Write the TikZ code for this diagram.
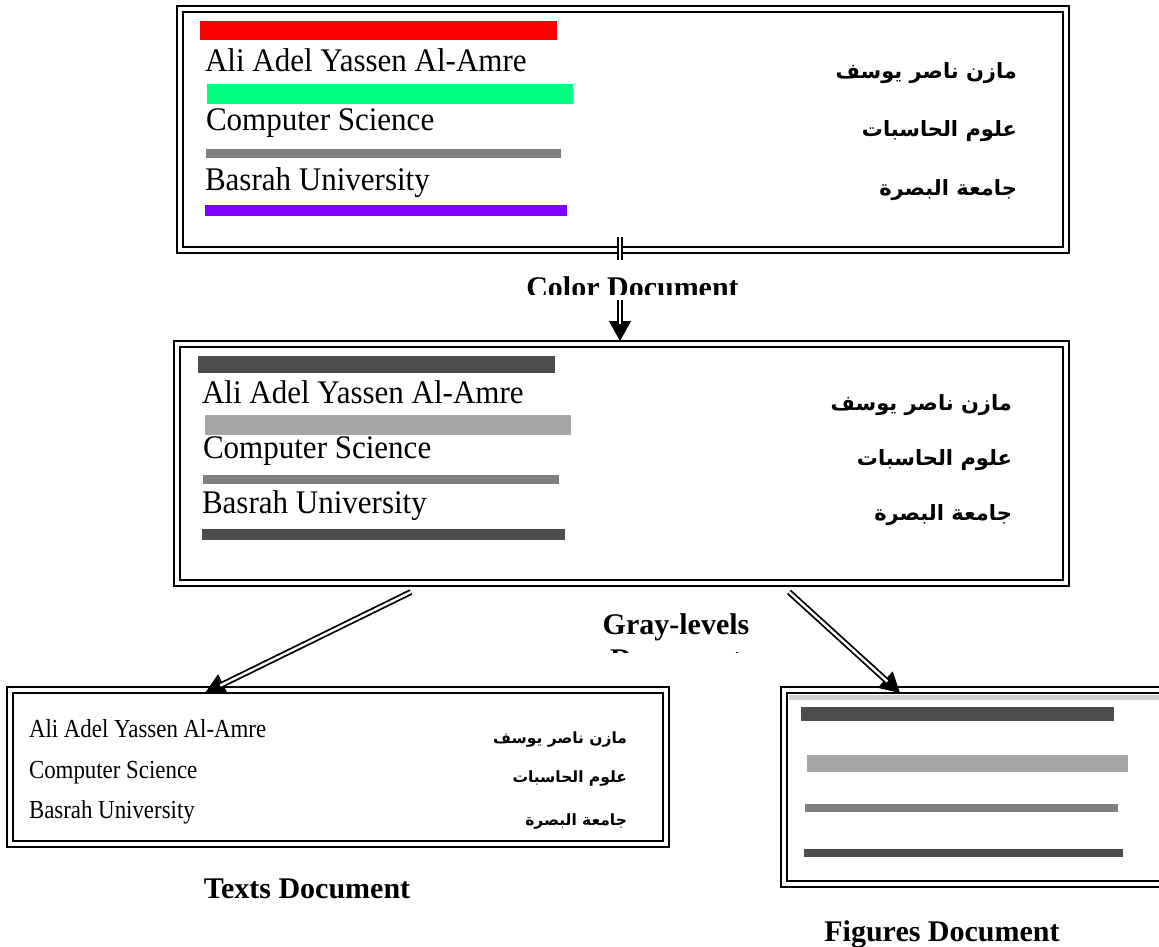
\documentclass[tikz,border=0pt]{standalone}
\usepackage{fontspec}
\setmainfont{Liberation Serif}
\newfontfamily\narrowserif[FakeStretch=0.94]{Liberation Serif}
\newfontfamily\narrowserifsmall[FakeStretch=0.88]{Liberation Serif}
\newfontfamily\arabicfont[Script=Arabic]{DejaVu Sans}
\TeXXeTstate=1
\usetikzlibrary{arrows.meta,calc}

\newcommand\bigserif{\narrowserif\fontsize{33}{38}\selectfont}
\newcommand\smallserif{\narrowserifsmall\fontsize{26}{30}\selectfont}
\newcommand\bigarabic{\arabicfont\bfseries\fontsize{21}{25}\selectfont}
\newcommand\smallarabic{\arabicfont\bfseries\fontsize{15.5}{19}\selectfont}
\newcommand\labelfont{\bfseries\fontsize{30}{34}\selectfont}

\definecolor{barred}{HTML}{FF0000}
\definecolor{bargreen}{HTML}{00FF80}
\definecolor{bargray}{HTML}{808080}
\definecolor{barpurple}{HTML}{8000FF}
\definecolor{bardark}{HTML}{4D4D4D}
\definecolor{barlight}{HTML}{A6A6A6}
\definecolor{stripgray}{HTML}{D0D0D0}

\tikzset{
  every node/.style={inner sep=0pt, outer sep=0pt},
  docbox/.style={draw, line width=2.4pt, fill=white},
  innerline/.style={line width=1.3pt},
  textline/.style={anchor=base west},
  arabline/.style={anchor=base east},
  caption/.style={anchor=base, font=\labelfont},
  tipline/.style={line width=0.8pt, -{Triangle[width=22pt,length=20pt]}},
  twinline/.style={line width=1.8pt, double, double distance=2.4pt, shorten >=17pt},
}

\begin{document}
\begin{tikzpicture}[x=1pt, y=-1pt]
\useasboundingbox (0,0) rectangle (1159,947);
\clip (0,0) rectangle (1159,947);

% the four document frames
\node[docbox, minimum width=892pt, minimum height=247pt] (top) at (623,129.5) {};
\node[docbox, minimum width=895pt, minimum height=245pt] (mid) at (621.5,463.5) {};
\node[docbox, minimum width=662pt, minimum height=160pt] (txt) at (338,767) {};
\node[docbox, minimum width=394pt, minimum height=200pt] (fig) at (978,787) {};
\foreach \b in {top,mid,txt,fig}
  \draw[innerline] ($(\b.north west)+(6,6)$) rectangle ($(\b.south east)+(-6,-6)$);

% colour document
\fill[barred]    (200,21)  rectangle (557,40);
\fill[bargreen]  (207,84)  rectangle (573,104);
\fill[bargray]   (206,149) rectangle (561,158);
\fill[barpurple] (205,205) rectangle (567,216);
\node[textline, font=\bigserif] (c1) at (205,72)  {Ali Adel Yassen Al-Amre};
\node[textline, font=\bigserif] (c2) at (206,131) {Computer Science};
\node[textline, font=\bigserif] (c3) at (205,190) {Basrah University};
\node[arabline, font=\bigarabic] (ca1) at (1017,79)  {\beginR مازن ناصر يوسف\endR};
\node[arabline, font=\bigarabic] (ca2) at (1017,137) {\beginR علوم الحاسبات\endR};
\node[arabline, font=\bigarabic] (ca3) at (1017,195) {\beginR جامعة البصرة\endR};

% gray-levels document
\fill[bardark]  (198,356) rectangle (555,373);
\fill[barlight] (205,415) rectangle (571,435);
\fill[bargray]  (203,475) rectangle (559,484);
\fill[bardark]  (202,529) rectangle (565,540);
\node[textline, font=\bigserif] (g1) at (202,403) {Ali Adel Yassen Al-Amre};
\node[textline, font=\bigserif] (g2) at (203,458) {Computer Science};
\node[textline, font=\bigserif] (g3) at (202,513) {Basrah University};
\node[arabline, font=\bigarabic] (ga1) at (1012,410) {\beginR مازن ناصر يوسف\endR};
\node[arabline, font=\bigarabic] (ga2) at (1012,465) {\beginR علوم الحاسبات\endR};
\node[arabline, font=\bigarabic] (ga3) at (1012,520) {\beginR جامعة البصرة\endR};

% texts document
\node[textline, font=\smallserif] (t1) at (29,737) {Ali Adel Yassen Al-Amre};
\node[textline, font=\smallserif] (t2) at (29,778) {Computer Science};
\node[textline, font=\smallserif] (t3) at (29,818) {Basrah University};
\node[arabline, font=\smallarabic] (ta1) at (627,743) {\beginR مازن ناصر يوسف\endR};
\node[arabline, font=\smallarabic] (ta2) at (627,782) {\beginR علوم الحاسبات\endR};
\node[arabline, font=\smallarabic] (ta3) at (627,825) {\beginR جامعة البصرة\endR};

% figures document
\fill[stripgray] (789,695) rectangle (1159,700);
\fill[bardark]  (801,707) rectangle (1114,721);
\fill[barlight] (807,755) rectangle (1128,772);
\fill[bargray]  (805,804) rectangle (1118,812);
\fill[bardark]  (804,849) rectangle (1123,857);

% connectors
\coordinate (s1) at (620,237);
\coordinate (s2) at (411,592);
\coordinate (s3) at (789,592);
\coordinate (e2) at ($(txt.north west)+(198,6)$);
\coordinate (e3) at ($(fig.north west)+(119,6)$);
\draw[tipline]  (s1) -- (s1 |- mid.north);
\draw[twinline] (s1) -- (s1 |- mid.north);
\draw[tipline]  (s2) -- (e2);
\draw[twinline] (s2) -- (e2);
\draw[tipline]  (s3) -- (e3);
\draw[twinline] (s3) -- (e3);

% captions (their frames cut the lower part of the lettering)
\fill[white] (500,260) rectangle (770,300);
\begin{scope}
  \clip (500,260) rectangle (770,294);
  \node[caption] (lcolor) at (632.5,297) {Color Document};
\end{scope}
\node[caption] (lgray) at (676,634) {Gray-levels};
\begin{scope}
  \clip (560,640) rectangle (800,652);
  \node[caption] (lgraydoc) at (676,669) {Document};
\end{scope}
\node[caption] (ltext) at (307,898) {Texts Document};
\node[caption] (lfig) at (942,941) {Figures Document};
\end{tikzpicture}
\end{document}
